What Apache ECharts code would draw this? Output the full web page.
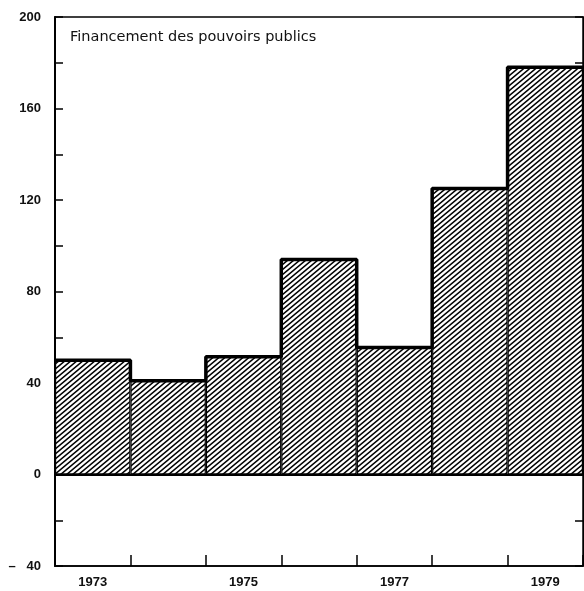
<!DOCTYPE html>
<html>
<head>
<meta charset="utf-8">
<script src="https://cdn.jsdelivr.net/npm/echarts@6/dist/echarts.min.js"></script>
<style>html,body{margin:0;padding:0;background:#fff}#c{width:584px;height:591px}</style>
</head>
<body>
<div id="c"></div>
<script>
var years = ['1973', '1974', '1975', '1976', '1977', '1978', '1979'];
var values = [50, 41, 51.5, 94, 55.5, 125, 178];
var yTicks = [-40, 0, 40, 80, 120, 160, 200];
var titleText = 'Financement des pouvoirs publics';

function hatch() {
  var w = 6, h = 5, c = document.createElement('canvas');
  c.width = w; c.height = h;
  var g = c.getContext('2d');
  g.fillStyle = '#fff'; g.fillRect(0, 0, w, h);
  g.strokeStyle = '#000'; g.lineWidth = 1.5;
  g.beginPath();
  for (var k = -1; k <= 1; k++) {
    g.moveTo(k * w - w, 2 * h); g.lineTo(k * w + 2 * w, -h);
  }
  g.stroke();
  return c;
}

var stepData = [];
values.forEach(function (v, i) { stepData.push([i, v]); stepData.push([i + 1, v]); });

var labelFont = '"Liberation Sans", Arial, Helvetica, sans-serif';
var titleFont = '"DejaVu Sans", "Liberation Sans", Arial, sans-serif';
var chart = echarts.init(document.getElementById('c'));
chart.setOption({
  animation: false,
  backgroundColor: '#fff',
  title: {
    text: titleText, left: 70, top: 30, padding: 0,
    textStyle: { fontFamily: titleFont, fontSize: 14.5, fontWeight: 'normal', color: '#111' }
  },
  grid: { left: 55, right: 1, top: 17, bottom: 25, show: true, borderColor: '#000', borderWidth: 1.5, backgroundColor: 'transparent' },
  xAxis: [{
    type: 'category', data: years, boundaryGap: true,
    axisLine: { onZero: false, lineStyle: { color: '#000', width: 1.5 } },
    axisTick: { show: true, inside: true, length: 11, interval: 0, lineStyle: { color: '#000', width: 1.5 } },
    axisLabel: { interval: 1, margin: 10, color: '#111', fontFamily: labelFont, fontSize: 13, fontWeight: 'bold' }
  }, {
    type: 'value', min: 0, max: years.length, show: false
  }],
  yAxis: [{
    type: 'value', min: yTicks[0], max: yTicks[yTicks.length - 1], interval: 40,
    splitLine: { show: false },
    axisLine: { show: true, lineStyle: { color: '#000', width: 2 } },
    axisTick: { inside: true, length: 8, lineStyle: { color: '#000', width: 1.5 } },
    minorTick: { show: true, splitNumber: 2, length: 8, lineStyle: { color: '#000', width: 1.5 } },
    axisLabel: {
      margin: 14, color: '#111', fontFamily: labelFont, fontSize: 13, fontWeight: 'bold',
      padding: [3, 0, 0, 0],
      formatter: function (v) { return v < 0 ? '\u2013   ' + Math.abs(v) : String(v); }
    }
  }, {
    type: 'value', position: 'right', min: yTicks[0], max: yTicks[yTicks.length - 1], interval: 40,
    splitLine: { show: false },
    axisLine: { show: true, lineStyle: { color: '#000', width: 1 } },
    axisTick: { show: true, inside: true, length: 8, lineStyle: { color: '#000', width: 1.5 } },
    minorTick: { show: true, splitNumber: 2, length: 8, lineStyle: { color: '#000', width: 1.5 } },
    axisLabel: { show: false }
  }],
  series: [{
    type: 'bar', data: values, barCategoryGap: 0, xAxisIndex: 0, yAxisIndex: 0,
    itemStyle: { color: { image: hatch(), repeat: 'repeat' }, borderColor: '#000', borderWidth: 1.2 },
    markLine: {
      silent: true, symbol: 'none', label: { show: false },
      lineStyle: { color: '#000', width: 2.2, type: 'solid' },
      data: [{ yAxis: 0 }]
    }
  }, {
    type: 'line', data: stepData, xAxisIndex: 1, yAxisIndex: 0,
    symbol: 'none', lineStyle: { color: '#000', width: 3.5 }, z: 5
  }]
});
</script>
</body>
</html>
